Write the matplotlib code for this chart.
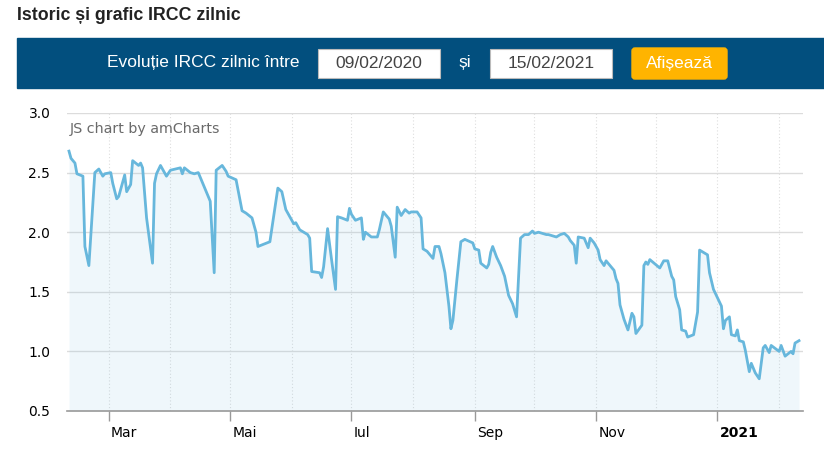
import matplotlib
matplotlib.use('Agg')
import matplotlib.pyplot as plt
from matplotlib.patches import Rectangle, FancyBboxPatch
from matplotlib.transforms import ScaledTranslation
import pandas as pd

# IRCC daily values, days counted from 09/02/2020
start = '2020-02-09'
day_offsets = [1, 2, 4, 5, 8, 9, 11, 14, 16, 18, 19, 22, 23, 25, 26, 29, 30, 32, 33, 36, 37, 38, 40, 43, 44, 45,
               47, 50, 52, 57, 58, 59, 62, 64, 66, 72, 74, 75, 78, 80, 81, 85, 88, 90, 93, 95, 96, 102, 106, 108,
               110, 114, 115, 117, 121, 122, 123, 127, 128, 129, 131, 133, 135, 136, 138, 141, 142, 143, 145, 148,
               149, 150, 153, 156, 157, 159, 162, 163, 165, 166, 168, 170, 172, 173, 176, 178, 179, 181, 184, 185,
               187, 188, 190, 191, 192, 193, 194, 196, 198, 199, 200, 204, 205, 207, 208, 211, 212, 213, 214, 216,
               218, 220, 222, 224, 226, 228, 230, 232, 234, 235, 237, 241, 242, 246, 248, 250, 252, 253, 255, 256,
               257, 260, 262, 263, 265, 267, 268, 270, 271, 273, 275, 276, 277, 278, 280, 282, 284, 285, 286, 289,
               290, 291, 292, 293, 298, 300, 302, 304, 305, 306, 308, 309, 311, 312, 315, 317, 318, 322, 323, 325,
               329, 330, 331, 333, 334, 336, 337, 338, 340, 341, 343, 344, 346, 348, 350, 351, 353, 354, 358, 359,
               361, 364, 365, 366, 368]
ircc = [2.68, 2.62, 2.58, 2.49, 2.47, 1.88, 1.72, 2.50, 2.53, 2.47, 2.49, 2.50, 2.41, 2.28, 2.30, 2.48, 2.34, 2.40,
        2.60, 2.56, 2.58, 2.54, 2.12, 1.74, 2.41, 2.49, 2.56, 2.47, 2.52, 2.54, 2.49, 2.54, 2.50, 2.49, 2.50, 2.26,
        1.66, 2.52, 2.56, 2.51, 2.47, 2.44, 2.18, 2.16, 2.12, 2.00, 1.88, 1.92, 2.37, 2.34, 2.19, 2.07, 2.08, 2.02,
        1.98, 1.95, 1.67, 1.66, 1.62, 1.71, 2.03, 1.77, 1.52, 2.13, 2.12, 2.10, 2.20, 2.15, 2.10, 2.12, 1.94, 2.00,
        1.96, 1.96, 2.02, 2.17, 2.11, 2.05, 1.79, 2.21, 2.14, 2.19, 2.16, 2.17, 2.17, 2.12, 1.86, 1.84, 1.78, 1.88,
        1.88, 1.82, 1.66, 1.52, 1.38, 1.19, 1.26, 1.60, 1.92, 1.93, 1.94, 1.91, 1.86, 1.85, 1.74, 1.70, 1.73, 1.83,
        1.88, 1.79, 1.72, 1.63, 1.47, 1.40, 1.29, 1.95, 1.98, 1.98, 2.01, 1.99, 2.00, 1.98, 1.98, 1.96, 1.98, 1.99,
        1.96, 1.93, 1.89, 1.74, 1.96, 1.95, 1.87, 1.95, 1.91, 1.85, 1.77, 1.72, 1.76, 1.72, 1.68, 1.61, 1.57, 1.39,
        1.27, 1.18, 1.32, 1.29, 1.15, 1.22, 1.72, 1.75, 1.73, 1.77, 1.70, 1.76, 1.76, 1.63, 1.60, 1.46, 1.35, 1.18,
        1.17, 1.12, 1.14, 1.33, 1.85, 1.81, 1.66, 1.52, 1.38, 1.19, 1.26, 1.29, 1.14, 1.13, 1.18, 1.09, 1.08, 1.01,
        0.83, 0.90, 0.82, 0.77, 1.03, 1.05, 0.99, 1.05, 1.00, 1.05, 0.96, 1.00, 0.98, 1.07, 1.09]

month_ticks = ['2020-03-01', '2020-05-01', '2020-07-01', '2020-09-01', '2020-11-01', '2021-01-01']
month_labels = ['Mar', 'Mai', 'Iul', 'Sep', 'Nov', '2021']
y_ticks = [0.5, 1.0, 1.5, 2.0, 2.5, 3.0]
y_labels = ['0.5', '1.0', '1.5', '2.0', '2.5', '3.0']

dates = pd.Timestamp(start) + pd.to_timedelta(day_offsets, unit='D')
line_color = '#67b7dc'

fig = plt.figure(figsize=(8.24, 4.54), dpi=100)
W, H = 824, 454
ax = fig.add_axes([67 / W, 1 - 411 / H, 736 / W, 298 / H])

# month grid (dotted) and value grid (solid)
for m in pd.date_range('2020-03-01', '2021-02-01', freq='MS'):
    ax.axvline(m, color='#dedede', lw=0.8, ls=(0, (1, 2)), zorder=0)
for v in y_ticks[1:]:
    ax.axhline(v, color='#dcdcdc', lw=1.0, zorder=0)

ax.fill_between(dates, ircc, 0.5, color=line_color, alpha=0.1, lw=0)
ax.plot(dates, ircc, color=line_color, lw=2.0, solid_joinstyle='round')

ax.set_ylim(0.5, 3.0)
ax.set_xlim(pd.Timestamp('2020-02-09'), pd.Timestamp('2021-02-13'))
for s in ['top', 'left', 'right']:
    ax.spines[s].set_visible(False)
ax.spines['bottom'].set_color('#999999')
ax.spines['bottom'].set_linewidth(1.2)

ax.set_yticks(y_ticks)
ax.set_yticklabels(y_labels)
ax.tick_params(axis='y', length=0, pad=12, labelsize=10, labelcolor='#000000')
ax.set_xticks(pd.to_datetime(month_ticks))
ax.set_xticklabels(month_labels)
ax.tick_params(axis='x', length=7, width=1, color='#999999', pad=4, labelsize=10, labelcolor='#000000')
offset = ScaledTranslation(1.5 / 72, 0, fig.dpi_scale_trans)
for lab in ax.get_xticklabels():
    lab.set_horizontalalignment('left')
    lab.set_transform(lab.get_transform() + offset)
ax.get_xticklabels()[-1].set_fontweight('bold')

ax.text(0.004, 0.945, 'JS chart by amCharts', transform=ax.transAxes, fontsize=10.3, color='#6a6a6a',
        va='center', ha='left')

# page header above the chart
hdr = fig.add_axes([0, 0, 1, 1])
hdr.set_xlim(0, W)
hdr.set_ylim(H, 0)
hdr.axis('off')
hdr.patch.set_alpha(0)
hdr.text(17, 15, 'Istoric și grafic IRCC zilnic', fontsize=12.8, fontweight='bold', family='Liberation Sans',
         va='center', ha='left', color='#222222')
hdr.add_patch(Rectangle((17, 38), W - 17, 50, color='#024f7e'))
hdr.text(300, 63, 'Evoluție IRCC zilnic între', ha='right', va='center', color='white', fontsize=12.5,
         family='Liberation Sans')
for x0, txt in [(318, '09/02/2020'), (490, '15/02/2021')]:
    hdr.add_patch(Rectangle((x0, 49), 122, 29, facecolor='white', edgecolor='#bbbbbb', lw=0.8))
    hdr.text(x0 + 61, 63.5, txt, ha='center', va='center', color='#444444', fontsize=12.5, family='Liberation Sans')
hdr.text(465, 63, 'și', ha='center', va='center', color='white', fontsize=12.5, family='Liberation Sans')
hdr.add_patch(FancyBboxPatch((632, 48), 95, 31, boxstyle='round,pad=0,rounding_size=3', color='#ffb400'))
hdr.text(679.5, 63.5, 'Afișează', ha='center', va='center', color='white', fontsize=12.5, family='Liberation Sans')

fig.savefig('out.png', dpi=100)
